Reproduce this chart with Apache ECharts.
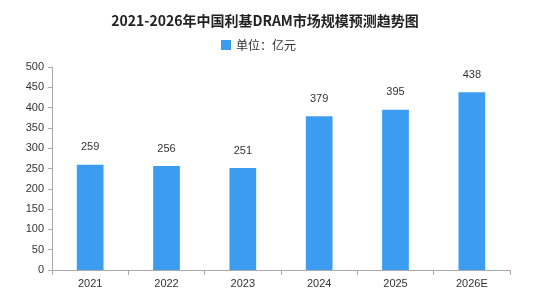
<!DOCTYPE html>
<html>
<head>
<meta charset="utf-8">
<script src="https://cdn.jsdelivr.net/npm/echarts@6/dist/echarts.min.js"></script>
<style>
html, body { margin: 0; padding: 0; background: #fff; }
#chart { width: 558px; height: 298px; }
</style>
</head>
<body>
<div id="chart"></div>
<script>
// 年份
const years = ['2021', '2022', '2023', '2024', '2025', '2026E'];
// 市场规模（亿元）
const sizes = [259, 256, 251, 379, 395, 438];
const yTicks = { min: 0, max: 500, interval: 50 };

let chart = echarts.init(document.getElementById('chart'));
chart.setOption({
    animation: false,
    title: {
        text: '2021-2026年中国利基DRAM市场规模预测趋势图',
        left: 260,
        textAlign: 'center',
        top: 9,
        textStyle: {
            fontFamily: 'Noto Sans CJK SC',
            fontSize: 14,
            fontWeight: 'bold',
            color: '#222'
        }
    },
    legend: {
        data: ['单位：亿元'],
        top: 34,
        left: 216,
        itemWidth: 10,
        itemHeight: 10,
        itemGap: 4,
        icon: 'rect',
        textStyle: { fontFamily: 'Noto Sans CJK SC', fontSize: 12, color: '#333' }
    },
    grid: { left: 52, right: 48, top: 67, bottom: 28 },
    xAxis: {
        type: 'category',
        data: years,
        axisLine: { lineStyle: { color: '#aaa', width: 1 } },
        axisTick: { show: true, alignWithLabel: false, length: 5, lineStyle: { color: '#aaa' } },
        axisLabel: { color: '#333', fontSize: 11, fontFamily: 'Liberation Sans', margin: 8 }
    },
    yAxis: {
        type: 'value',
        min: yTicks.min,
        max: yTicks.max,
        interval: yTicks.interval,
        axisLine: { show: true, lineStyle: { color: '#aaa' } },
        axisTick: { show: true, length: 4, lineStyle: { color: '#aaa' } },
        splitLine: { show: false },
        axisLabel: { color: '#333', fontSize: 11, fontFamily: 'Liberation Sans', margin: 8 }
    },
    series: [{
        name: '单位：亿元',
        type: 'bar',
        data: sizes,
        barWidth: '35%',
        itemStyle: { color: '#3c9cf0' },
        label: {
            show: true,
            position: 'top',
            distance: 12,
            color: '#333',
            fontSize: 11,
            fontFamily: 'Liberation Sans'
        }
    }]
});
</script>
</body>
</html>
